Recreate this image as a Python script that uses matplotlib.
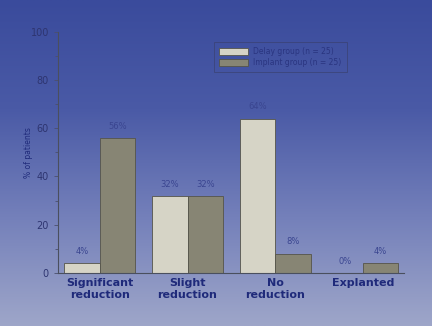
import matplotlib
matplotlib.use('Agg')
import matplotlib.pyplot as plt
import numpy as np
from matplotlib.colors import LinearSegmentedColormap

# Data
categories = ['Significant\nreduction', 'Slight\nreduction', 'No\nreduction', 'Explanted']
delay = [4, 32, 64, 0]
implant = [56, 32, 8, 4]
series_names = ['Delay group (n = 25)', 'Implant group (n = 25)']

navy = '#1f2a7a'
c_delay = '#d6d4c6'
c_implant = '#878574'

fig = plt.figure(figsize=(4.32, 3.26), dpi=100)

# photographed blue gradient background
bg = fig.add_axes([0, 0, 1, 1], zorder=-10)
cmap = LinearSegmentedColormap.from_list('bg', ['#9ea6c9', '#7480ba', '#4a5aa6', '#3a4b9c'])
grad = np.linspace(0, 1, 256).reshape(-1, 1)
bg.imshow(grad, aspect='auto', cmap=cmap, origin='lower', extent=[0, 1, 0, 1])
bg.axis('off')

ax = fig.add_axes([0.134, 0.163, 0.801, 0.739])
ax.patch.set_alpha(0)

x = np.arange(len(categories))
w = 0.405
b1 = ax.bar(x - w / 2, delay, w, color=c_delay, edgecolor='#55544a', linewidth=0.6, label=series_names[0])
b2 = ax.bar(x + w / 2, implant, w, color=c_implant, edgecolor='#55544a', linewidth=0.6, label=series_names[1])

for bars, vals in ((b1, delay), (b2, implant)):
    for rect, v in zip(bars, vals):
        ax.text(rect.get_x() + rect.get_width() / 2, v + 3, f'{v}%', ha='center', va='bottom',
                fontsize=6, color='#3a4590')

ax.set_ylim(0, 100)
ax.set_xlim(-0.48, 3.47)
ax.set_yticks(range(0, 101, 20))
ax.set_yticks(range(10, 100, 20), minor=True)
ax.tick_params(axis='y', labelsize=7, colors='#4a4f6e', length=3, width=0.6, labelcolor='#2e3570')
ax.tick_params(axis='y', which='minor', length=2, width=0.6, colors='#4a4f6e')
ax.set_xticks(x)
ax.set_xticklabels(categories, fontsize=8, fontweight='bold', color=navy, linespacing=1.2)
ax.tick_params(axis='x', length=0, pad=4)
ax.set_ylabel('% of patients', fontsize=5.5, color=navy, labelpad=-2)

for s in ['top', 'right']:
    ax.spines[s].set_visible(False)
for s in ['left', 'bottom']:
    ax.spines[s].set_color('#4a4f5e')
    ax.spines[s].set_linewidth(0.8)

leg = ax.legend(loc='upper left', bbox_to_anchor=(0.44, 0.975), fontsize=5.5, frameon=True,
                fancybox=False, handlelength=3.8, handleheight=1.1, borderpad=0.7,
                labelspacing=0.25, handletextpad=0.6)
leg.get_frame().set_facecolor('none')
leg.get_frame().set_edgecolor('#3a4170')
leg.get_frame().set_linewidth(0.6)
for t in leg.get_texts():
    t.set_color('#2a3580')

fig.savefig('out.png', dpi=100)
